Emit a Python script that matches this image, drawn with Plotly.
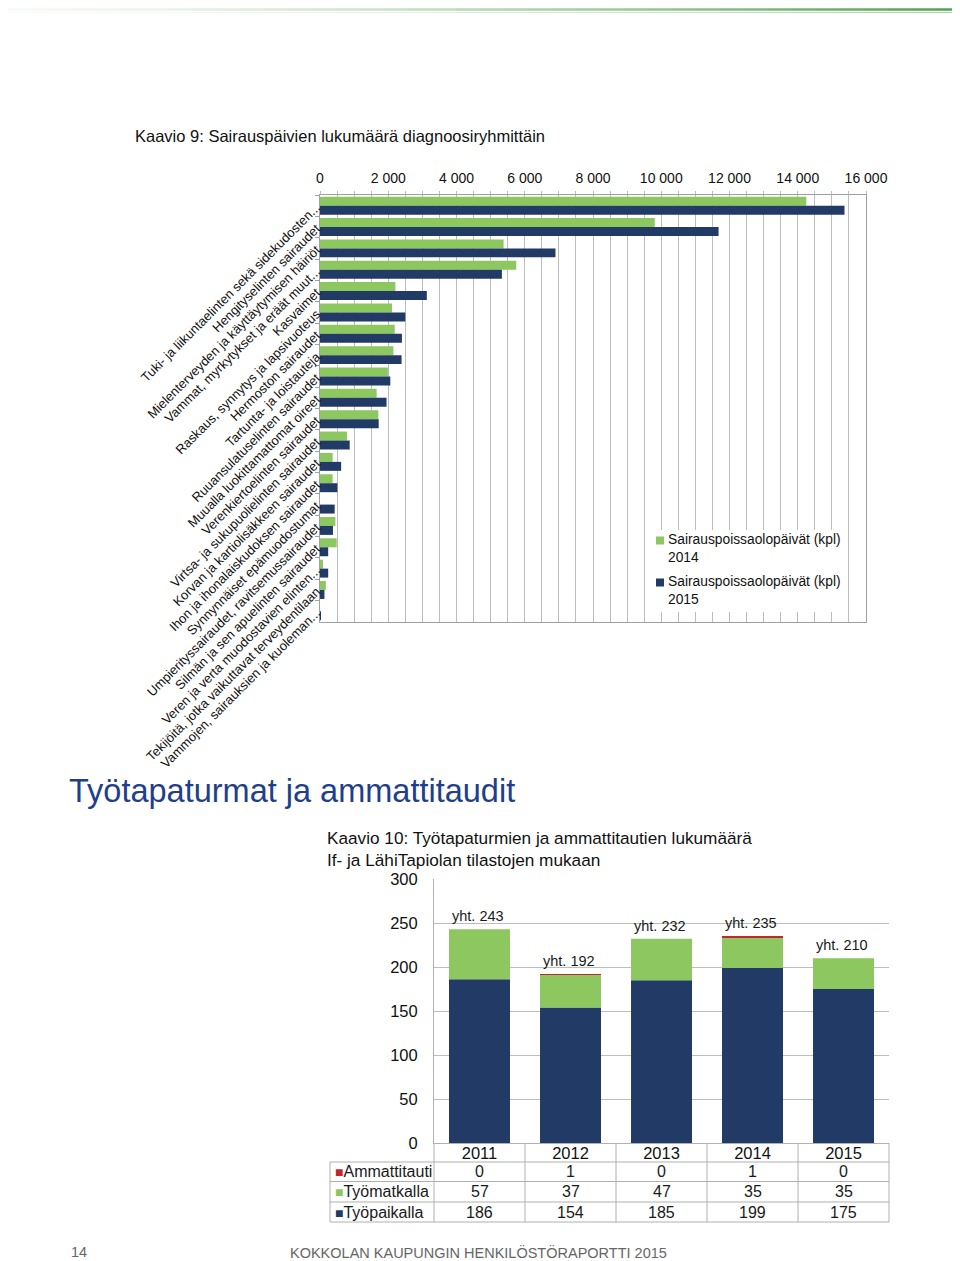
import plotly.graph_objects as go

# ---------------- data: chart 9 ----------------
categories = [
    "Tuki- ja liikuntaelinten sekä sidekudosten...",
    "Hengityselinten sairaudet",
    "Mielenterveyden ja käyttäytymisen häiriöt",
    "Vammat, myrkytykset ja eräät muut...",
    "Kasvaimet",
    "Raskaus, synnytys ja lapsivuoteus",
    "Hermoston sairaudet",
    "Tartunta- ja loistauteja",
    "Ruuansulatuselinten sairaudet",
    "Muualla luokittamattomat oireet",
    "Verenkiertoelinten sairaudet",
    "Virtsa- ja sukupuolielinten sairaudet",
    "Korvan ja kartiolisäkkeen sairaudet",
    "Ihon ja ihonalaiskudoksen sairaudet",
    "Synnynnäiset epämuodostumat",
    "Umpierityssairaudet, ravitsemussairaudet",
    "Silmän ja sen apuelinten sairaudet",
    "Veren ja verta muodostavien elinten...",
    "Tekijöitä, jotka vaikuttavat terveydentilaan",
    "Vammojen, sairauksien ja kuoleman...",
]
days_2014 = [14250, 9810, 5380, 5750, 2210, 2110, 2190, 2150, 1990, 1660,
             1710, 790, 370, 370, 0, 450, 490, 90, 170, 0]
days_2015 = [15370, 11680, 6900, 5330, 3130, 2500, 2400, 2390, 2060, 1950,
             1720, 870, 620, 510, 430, 380, 240, 240, 130, 20]
x_tickvals = [0, 2000, 4000, 6000, 8000, 10000, 12000, 14000, 16000]
x_ticktext = ["0", "2 000", "4 000", "6 000", "8 000", "10 000", "12 000", "14 000", "16 000"]
series_names_9 = ["Sairauspoissaolopäivät (kpl)<br>2014", "Sairauspoissaolopäivät (kpl)<br>2015"]

# ---------------- data: chart 10 ----------------
years = ["2011", "2012", "2013", "2014", "2015"]
ammattitauti = [0, 1, 0, 1, 0]
tyomatkalla = [57, 37, 47, 35, 35]
tyopaikalla = [186, 154, 185, 199, 175]
row_labels = ["Ammattitauti", "Työmatkalla", "Työpaikalla"]

GREEN = "#8DC75F"
NAVY = "#213A66"
RED = "#C4242B"
GRID = "#BDBDBD"
OFF = 8                       # page body margin of the html page
W, H = 960 - OFF, 1261 - OFF  # figure size so that it fills the window
SANS = "Liberation Sans, Arial, sans-serif"
NARROW = "Liberation Sans Narrow, Liberation Sans, Arial, sans-serif"


def px(x):
    return (x - OFF) / W


def py(y):
    return 1 - (y - OFF) / H


fig = go.Figure()

# chart 9 bars
fig.add_trace(go.Bar(y=categories, x=days_2014, orientation="h", name=series_names_9[0],
                     marker=dict(color=GREEN, line=dict(width=0)), offsetgroup="g14",
                     xaxis="x", yaxis="y", showlegend=False))
fig.add_trace(go.Bar(y=categories, x=days_2015, orientation="h", name=series_names_9[1],
                     marker=dict(color=NAVY, line=dict(width=0)), offsetgroup="g15",
                     xaxis="x", yaxis="y", showlegend=False))

# chart 10 stacked bars (stacked through base values)
base_green = tyopaikalla
base_red = [a + b for a, b in zip(tyopaikalla, tyomatkalla)]
totals = [a + b + c for a, b, c in zip(tyopaikalla, tyomatkalla, ammattitauti)]
fig.add_trace(go.Bar(x=years, y=tyopaikalla, name="Työpaikalla", marker=dict(color=NAVY, line=dict(width=0)),
                     offsetgroup="s", width=0.67, xaxis="x2", yaxis="y2", showlegend=False))
fig.add_trace(go.Bar(x=years, y=tyomatkalla, base=base_green, name="Työmatkalla",
                     marker=dict(color=GREEN, line=dict(width=0)),
                     offsetgroup="s", width=0.67, xaxis="x2", yaxis="y2", showlegend=False))
fig.add_trace(go.Bar(x=years, y=ammattitauti, base=base_red, name="Ammattitauti",
                     marker=dict(color=RED, line=dict(width=0)),
                     offsetgroup="s", width=0.67, xaxis="x2", yaxis="y2", showlegend=False))

annotations = []
shapes = []

# chart 9 legend (box + entries)
shapes.append(dict(type="rect", xref="paper", yref="paper", x0=px(652), x1=px(846),
                   y0=py(530), y1=py(612), fillcolor="white", line=dict(width=0), layer="above"))
for name, col, yc in zip(series_names_9, [GREEN, NAVY], [548.5, 590.5]):
    shapes.append(dict(type="rect", xref="paper", yref="paper", x0=px(656), x1=px(664),
                       y0=py(yc - 12), y1=py(yc - 4), fillcolor=col, line=dict(width=0), layer="above"))
    annotations.append(dict(x=px(666), y=py(yc), xref="paper", yref="paper", xanchor="left",
                            yanchor="middle", showarrow=False, align="left", text=name,
                            font=dict(family=SANS, size=13.8, color="#111")))

# total labels (category axis -> serial index)
for i, t in enumerate(totals):
    annotations.append(dict(x=i, y=t, xref="x2", yref="y2", text=f"yht. {t}", showarrow=False,
                            yanchor="bottom", yshift=3, xshift=-2,
                            font=dict(family=NARROW, size=14.5, color="#1a1a1a")))

# data table under chart 10
row_centers = [1171.5, 1191.5, 1212]
row_colors = [RED, GREEN, NAVY]
row_values = [ammattitauti, tyomatkalla, tyopaikalla]
for lab, col, yc, vals in zip(row_labels, row_colors, row_centers, row_values):
    annotations.append(dict(x=px(333), y=py(yc), xref="paper", yref="paper", xanchor="left",
                            yanchor="middle", showarrow=False,
                            text=f'<span style="color:{col}; font-size:14px">■</span>{lab}',
                            font=dict(family=NARROW, size=16, color="#1a1a1a")))
    for i, v in enumerate(vals):
        annotations.append(dict(x=i, y=py(yc), xref="x2", yref="paper", yanchor="middle",
                                showarrow=False, text=str(v),
                                font=dict(family=NARROW, size=16, color="#1a1a1a")))

TL = "#B0B0B0"
for yl in [1162, 1181.5, 1202, 1222]:
    shapes.append(dict(type="line", xref="paper", yref="paper", x0=px(330), x1=px(889),
                       y0=py(yl), y1=py(yl), line=dict(color=TL, width=1)))
shapes.append(dict(type="line", xref="paper", yref="paper", x0=px(330), x1=px(330),
                   y0=py(1162), y1=py(1222), line=dict(color=TL, width=1)))
for k in range(len(years) + 1):
    shapes.append(dict(type="line", xref="x2 domain", yref="paper", x0=k / len(years), x1=k / len(years),
                       y0=py(1143), y1=py(1222), line=dict(color=TL, width=1)))

# top decorative gradient line
nseg = 40
for i in range(nseg):
    op = 0.05 + 0.92 * (i / (nseg - 1)) ** 1.4
    shapes.append(dict(type="line", xref="paper", yref="paper", x0=px(i * 960 / nseg), x1=px((i + 1) * 960 / nseg),
                       y0=py(9.5), y1=py(9.5), line=dict(color="#4E9E4A", width=2.5), opacity=op))
    shapes.append(dict(type="line", xref="paper", yref="paper", x0=px(i * 960 / nseg), x1=px((i + 1) * 960 / nseg),
                       y0=py(12.5), y1=py(12.5), line=dict(color="#86BF83", width=1), opacity=op * 0.7))

# page texts
annotations += [
    dict(x=px(133), y=py(136), xref="paper", yref="paper", xanchor="left", yanchor="middle",
         showarrow=False, text="Kaavio 9: Sairauspäivien lukumäärä diagnoosiryhmittäin",
         font=dict(family=SANS, size=16.5, color="#111")),
    dict(x=px(67), y=py(791), xref="paper", yref="paper", xanchor="left", yanchor="middle",
         showarrow=False, text="Työtapaturmat ja ammattitaudit",
         font=dict(family=SANS, size=32.5, color="#1F3E8C")),
    dict(x=px(325), y=py(848.5), xref="paper", yref="paper", xanchor="left", yanchor="middle",
         showarrow=False, align="left",
         text="Kaavio 10: Työtapaturmien ja ammattitautien lukumäärä<br>If- ja LähiTapiolan tilastojen mukaan",
         font=dict(family=NARROW, size=17.2, color="#111")),
    dict(x=px(69), y=py(1252), xref="paper", yref="paper", xanchor="left", yanchor="middle",
         showarrow=False, text="14", font=dict(family=NARROW, size=14.5, color="#666")),
    dict(x=px(478), y=py(1252), xref="paper", yref="paper", xanchor="center", yanchor="middle",
         showarrow=False, text="KOKKOLAN KAUPUNGIN HENKILÖSTÖRAPORTTI 2015",
         font=dict(family=NARROW, size=14.5, color="#666")),
]

fig.update_layout(
    template="none",
    width=W, height=H, autosize=False,
    margin=dict(l=0, r=0, t=0, b=0, pad=0),
    paper_bgcolor="white", plot_bgcolor="white",
    barmode="group", bargap=0.16, bargroupgap=0.0,
    font=dict(family=SANS, color="#111"),
    showlegend=False,
    xaxis=dict(domain=[px(320), px(866)], anchor="y", side="top", range=[0, 16000], automargin=False,
               tickvals=x_tickvals, ticktext=x_ticktext, showgrid=True, gridcolor=GRID, gridwidth=1,
               minor=dict(dtick=500, showgrid=True, gridcolor=GRID, ticks="outside", ticklen=3,
                          tickcolor=GRID),
               ticks="outside", ticklen=3, tickcolor=GRID, ticklabelstandoff=2,
               showline=True, linecolor="#A0A0A0", mirror=True, zeroline=False,
               tickfont=dict(family=SANS, size=14, color="#111")),
    yaxis=dict(domain=[py(622), py(195)], anchor="x", type="category", autorange="reversed",
               automargin=False,
               tickangle=-45, tickson="boundaries", ticks="outside", ticklen=4, tickcolor="#A0A0A0",
               showline=True, linecolor="#A0A0A0", mirror=True, showgrid=False,
               tickfont=dict(family=SANS, size=13, color="#111")),
    xaxis2=dict(domain=[px(434), px(889)], anchor="y2", type="category", automargin=False,
                categoryorder="array", categoryarray=years, range=[-0.5, len(years) - 0.5],
                showline=True, linecolor=TL, ticks="", showgrid=False, ticklabelstandoff=-5,
                tickfont=dict(family=NARROW, size=16.5, color="#111")),
    yaxis2=dict(domain=[py(1143), py(879)], anchor="x2", range=[0, 300], dtick=50, automargin=False,
                showgrid=True, gridcolor=GRID, showline=True, linecolor=TL, ticks="",
                zeroline=False, ticklabelstandoff=12,
                tickfont=dict(family=NARROW, size=16.5, color="#111")),
    annotations=annotations,
    shapes=shapes,
)

fig.write_html("out.html")
